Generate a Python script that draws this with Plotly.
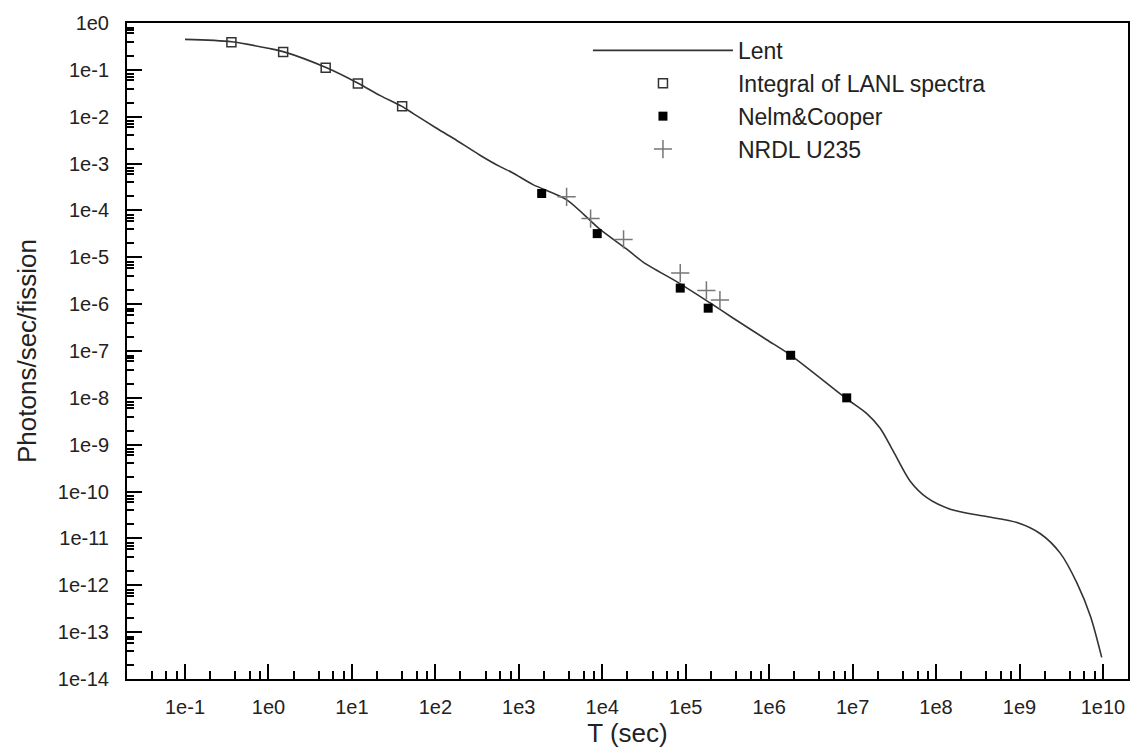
import plotly.graph_objects as go

# Lent curve (T in sec, photons/sec/fission)
lent_t = [0.1, 0.363, 1.0, 1.50, 4.90, 11.7, 21.9, 39.8, 55.0, 100, 164, 343, 589, 851,
          1480, 3720, 9330, 1.95e4, 3.09e4, 8.51e4, 1.95e5, 3.72e5, 9.33e5, 1.82e6,
          8.51e6, 1.48e7, 2.14e7, 3.09e7, 4.90e7, 7.76e7, 1.48e8, 3.72e8, 9.33e8,
          1.78e9, 3.09e9, 4.90e9, 7.08e9, 9.66e9]
lent_y = [0.447, 0.398, 0.288, 0.245, 0.112, 0.0525, 0.0282, 0.0166, 0.0115, 5.9e-3,
          3.47e-3, 1.51e-3, 8.7e-4, 6.3e-4, 3.55e-4, 1.70e-4, 3.98e-5, 1.51e-5, 7.9e-6,
          2.75e-6, 1.07e-6, 5.0e-7, 1.74e-7, 8.1e-8, 9.5e-9, 4.6e-9, 2.24e-9, 7.1e-10,
          1.66e-10, 7.4e-11, 4.2e-11, 3.0e-11, 2.19e-11, 1.26e-11, 4.8e-12, 1.10e-12,
          2.19e-13, 2.9e-14]

# Integral of LANL spectra
lanl_t = [0.36, 1.5, 4.85, 11.8, 40]
lanl_y = [0.39, 0.24, 0.111, 0.051, 0.0167]

# Nelm&Cooper
nc_t = [1880, 8700, 8.6e4, 1.86e5, 1.81e6, 8.5e6]
nc_y = [2.3e-4, 3.2e-5, 2.2e-6, 8.2e-7, 8.1e-8, 1.0e-8]

# NRDL U235
nrdl_t = [3740, 7250, 1.8e4, 8.6e4, 1.77e5, 2.57e5]
nrdl_y = [1.95e-4, 6.7e-5, 2.4e-5, 4.6e-6, 1.96e-6, 1.22e-6]

x_ticks = [10.0 ** k for k in range(-1, 11)]
x_labels = ["1e%d" % k for k in range(-1, 11)]
y_ticks = [10.0 ** k for k in range(-14, 1)]
y_labels = ["1e%d" % k for k in range(-14, 1)]
x_minor_mult = [2, 4, 6, 8]
y_minor_mult = [2, 4, 6, 7, 8]

x_minor = [m * 10.0 ** k for k in range(-2, 11) for m in x_minor_mult]
y_minor = [m * 10.0 ** k for k in range(-14, 0) for m in y_minor_mult]

FONT = "Liberation Sans, Arial, Helvetica, sans-serif"

fig = go.Figure()
fig.add_trace(go.Scatter(x=lent_t, y=lent_y, mode="lines", name="Lent",
                         line=dict(color="#333333", width=1.6, shape="spline", smoothing=0.8)))
fig.add_trace(go.Scatter(x=lanl_t, y=lanl_y, mode="markers", name="Integral of LANL spectra",
                         marker=dict(symbol="square-open", size=9, color="#333333",
                                     line=dict(width=1.5, color="#333333"))))
fig.add_trace(go.Scatter(x=nc_t, y=nc_y, mode="markers", name="Nelm&Cooper",
                         marker=dict(symbol="square", size=9, color="#000000")))
fig.add_trace(go.Scatter(x=nrdl_t, y=nrdl_y, mode="markers", name="NRDL U235",
                         marker=dict(symbol="cross-thin", size=13, color="#777777",
                                     line=dict(width=1.5, color="#777777"))))

axis_common = dict(
    type="log", showgrid=False, zeroline=False,
    showline=True, linecolor="black", linewidth=2, mirror=True,
    ticks="inside", ticklen=15, tickwidth=2, tickcolor="black",
    tickfont=dict(family=FONT, size=20, color="#222222"),
)

fig.update_xaxes(**axis_common, range=[-1.695, 10.30], tickmode="array",
                 tickvals=x_ticks, ticktext=x_labels, ticklabelstandoff=9,
                 minor=dict(ticks="inside", ticklen=8, tickwidth=1.5, tickcolor="black",
                            tickmode="array", tickvals=x_minor),
                 title=dict(text="T (sec)", font=dict(family=FONT, size=26, color="#222222"),
                            standoff=6))
fig.update_yaxes(**axis_common, range=[-14, 0], tickmode="array",
                 tickvals=y_ticks, ticktext=y_labels, ticklabelstandoff=12,
                 minor=dict(ticks="inside", ticklen=7, tickwidth=1.5, tickcolor="black",
                            tickmode="array", tickvals=y_minor),
                 title=dict(text="Photons/sec/fission", font=dict(family=FONT, size=26, color="#222222"),
                            standoff=14))

fig.update_layout(
    width=1144, height=754,
    margin=dict(l=127, r=16, t=16, b=75),
    plot_bgcolor="white", paper_bgcolor="white",
    showlegend=True,
    legend=dict(x=0.4605, y=0.991, xanchor="left", yanchor="top",
                font=dict(family=FONT, size=23, color="#222222"),
                bgcolor="rgba(0,0,0,0)", itemwidth=140, tracegroupgap=0),
)

fig.write_html("out.html")
